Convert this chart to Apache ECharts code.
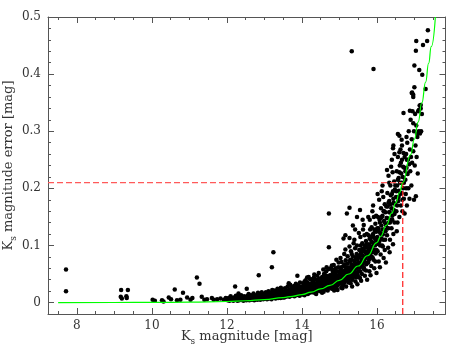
<!DOCTYPE html>
<html>
<head>
<meta charset="utf-8">
<script src="https://cdn.jsdelivr.net/npm/echarts@6/dist/echarts.min.js"></script>
<style>
  html, body { margin: 0; padding: 0; background: #fff; }
  #chart { width: 474px; height: 354px; }
</style>
</head>
<body>
<div id="chart"></div>
<script>
// axis ranges and ticks
var xMin = 7.23, xMax = 17.83;
var yMin = -0.02, yMax = 0.5;
var xMajor = [8, 10, 12, 14, 16];
var xMinor = [7.5, 8.5, 9, 9.5, 10.5, 11, 11.5, 12.5, 13, 13.5, 14.5, 15, 15.5, 16.5, 17, 17.5];
var yMajor = [0, 0.1, 0.2, 0.3, 0.4, 0.5];
var yMinor = [0.02, 0.04, 0.06, 0.08, 0.12, 0.14, 0.16, 0.18, 0.22, 0.24, 0.26, 0.28,
              0.32, 0.34, 0.36, 0.38, 0.42, 0.44, 0.46, 0.48];

// completeness cut (dashed lines)
var cutMag = 16.69;
var cutErr = 0.21;

// fitted error curve
var curveMag = [7.5, 9, 10, 11, 12, 12.5, 13, 13.5, 13.75, 14, 14.25, 14.5, 14.75, 15, 15.25, 15.5, 15.75, 16, 16.1, 16.25, 16.4, 16.5, 16.6, 16.69, 16.9, 17.0, 17.1, 17.2, 17.3, 17.38, 17.45, 17.56];
var curveErr = [0, 0.0001, 0.0003, 0.0007, 0.0019, 0.0032, 0.0053, 0.0087, 0.011, 0.014, 0.0183, 0.024, 0.030, 0.039, 0.050, 0.064, 0.082, 0.105, 0.116, 0.135, 0.157, 0.174, 0.192, 0.21, 0.259, 0.286, 0.316, 0.35, 0.386, 0.419, 0.448, 0.50];

// isolated stars
var sparseStars = [
  [7.71,0.058],[7.71,0.020],[9.18,0.022],[9.36,0.022],[9.17,0.010],[9.20,0.007],[9.32,0.011],[9.33,0.008],
  [10.02,0.005],[10.08,0.003],[10.27,0.004],[10.31,0.002],[10.45,0.009],[10.51,0.006],[10.61,0.023],[10.67,0.004],
  [10.76,0.005],[10.83,0.017],[10.94,0.009],[11.03,0.005],[11.08,0.008],[11.20,0.044],[11.27,0.033],[11.33,0.010],
  [11.40,0.005],[11.47,0.006],[11.60,0.008],[11.65,0.005],[11.74,0.006],[11.83,0.007],[11.92,0.005],[11.97,0.008],
  [12.22,0.028],[12.53,0.024],[12.85,0.048],[13.20,0.062],[13.24,0.088],[13.88,0.047],[14.18,0.045],
  [14.72,0.156],[14.72,0.097],[15.20,0.156],[15.27,0.166],[15.55,0.162],[15.47,0.150],[15.16,0.118],[15.27,0.113],
  [15.11,0.112],[15.36,0.135],[15.42,0.128],[15.62,0.145],
  [15.33,0.440],[15.91,0.409],[17.36,0.477],[17.34,0.458],[17.05,0.458],[17.23,0.451],[17.04,0.441],[17.00,0.415],
  [17.13,0.407],[17.21,0.399],[17.00,0.377],[16.94,0.368],[16.97,0.364],[17.30,0.374]
];

var band12to14 = [
  [12.02,0.004],[12.05,0.008],[12.07,0.003],[12.10,0.011],[12.12,0.005],[12.15,0.007],[12.17,0.003],[12.19,0.009],[12.22,0.005],[12.24,0.012],
  [12.26,0.006],[12.28,0.003],[12.30,0.010],[12.31,0.016],[12.33,0.004],[12.36,0.008],[12.38,0.013],[12.40,0.005],[12.42,0.009],[12.44,0.003],[12.46,0.011],[12.49,0.006],
  [12.51,0.008],[12.52,0.004],[12.55,0.012],[12.57,0.006],[12.58,0.015],[12.60,0.004],[12.62,0.009],[12.64,0.013],[12.66,0.005],[12.68,0.010],[12.70,0.007],[12.71,0.016],[12.73,0.004],[12.74,0.011],
  [12.76,0.006],[12.78,0.013],[12.79,0.009],[12.81,0.005],[12.83,0.017],[12.84,0.011],[12.86,0.007],[12.88,0.014],[12.89,0.005],[12.91,0.010],[12.93,0.018],[12.94,0.008],[12.96,0.012],[12.97,0.006],[12.99,0.015],[12.98,0.009],
  [13.01,0.007],[13.02,0.013],[13.04,0.018],[13.05,0.009],[13.07,0.006],[13.08,0.015],[13.10,0.011],[13.11,0.020],[13.13,0.007],[13.14,0.013],[13.16,0.009],[13.17,0.017],[13.19,0.006],[13.20,0.012],[13.21,0.022],[13.22,0.008],[13.24,0.015],[13.23,0.010],
  [13.26,0.009],[13.27,0.016],[13.28,0.021],[13.30,0.007],[13.31,0.012],[13.33,0.018],[13.34,0.010],[13.35,0.024],[13.37,0.008],[13.38,0.014],[13.40,0.020],[13.41,0.011],[13.42,0.016],[13.43,0.008],[13.45,0.013],[13.46,0.022],[13.47,0.010],[13.48,0.017],[13.49,0.009],[13.44,0.026],
  [13.51,0.012],[13.52,0.019],[13.53,0.009],[13.55,0.025],[13.56,0.014],[13.57,0.010],[13.58,0.021],[13.60,0.016],[13.61,0.011],[13.62,0.028],[13.63,0.018],[13.64,0.013],[13.66,0.023],[13.67,0.010],[13.68,0.016],[13.69,0.031],[13.70,0.020],[13.71,0.012],[13.72,0.026],[13.73,0.015],[13.74,0.019],[13.65,0.034],
  [13.76,0.013],[13.77,0.022],[13.78,0.017],[13.79,0.029],[13.80,0.011],[13.81,0.024],[13.82,0.015],[13.83,0.019],[13.84,0.033],[13.85,0.013],[13.86,0.027],[13.87,0.018],[13.88,0.022],[13.89,0.014],[13.90,0.030],[13.91,0.020],[13.92,0.016],[13.93,0.025],[13.94,0.012],[13.95,0.035],[13.96,0.021],[13.97,0.017],[13.98,0.028],[13.99,0.015]
];

var band14to15 = [
  [14.01,0.019],[14.02,0.014],[14.03,0.027],[14.04,0.034],[14.05,0.017],[14.06,0.022],[14.07,0.013],[14.08,0.030],[14.09,0.019],[14.10,0.039],[14.11,0.024],[14.12,0.016],[14.13,0.028],[14.14,0.021],[14.15,0.035],[14.16,0.015],[14.17,0.025],[14.18,0.019],[14.19,0.031],[14.20,0.023],[14.21,0.017],[14.22,0.041],[14.23,0.027],[14.24,0.020],[14.14,0.044],[14.07,0.037],
  [14.26,0.022],[14.27,0.030],[14.28,0.018],[14.29,0.037],[14.30,0.025],[14.31,0.020],[14.32,0.044],[14.33,0.028],[14.34,0.017],[14.35,0.033],[14.36,0.023],[14.37,0.040],[14.38,0.026],[14.39,0.019],[14.40,0.031],[14.41,0.047],[14.42,0.024],[14.43,0.036],[14.44,0.021],[14.45,0.029],[14.46,0.042],[14.47,0.026],[14.48,0.034],[14.49,0.020],[14.33,0.049],[14.28,0.041],[14.45,0.052],[14.38,0.015],
  [14.51,0.028],[14.52,0.036],[14.53,0.022],[14.54,0.045],[14.55,0.031],[14.56,0.025],[14.57,0.039],[14.58,0.019],[14.59,0.050],[14.60,0.033],[14.61,0.027],[14.62,0.042],[14.63,0.030],[14.64,0.023],[14.65,0.055],[14.66,0.036],[14.67,0.028],[14.68,0.046],[14.69,0.021],[14.70,0.038],[14.71,0.031],[14.72,0.059],[14.73,0.026],[14.74,0.043],[14.57,0.058],[14.63,0.048],[14.69,0.034],[14.54,0.017],[14.66,0.062],[14.60,0.040],
  [14.76,0.035],[14.77,0.028],[14.78,0.048],[14.79,0.040],[14.80,0.024],[14.81,0.057],[14.82,0.033],[14.83,0.044],[14.84,0.029],[14.85,0.066],[14.86,0.038],[14.87,0.050],[14.88,0.026],[14.89,0.042],[14.90,0.034],[14.91,0.060],[14.92,0.031],[14.93,0.047],[14.94,0.039],[14.95,0.022],[14.96,0.054],[14.97,0.036],[14.98,0.070],[14.99,0.044],[14.80,0.065],[14.86,0.021],[14.92,0.075],[14.88,0.058],[14.78,0.061],[14.95,0.030],[14.83,0.053],[14.97,0.062]
];

var band15to16 = [
  [15.01,0.041],[15.02,0.033],[15.03,0.058],[15.04,0.047],[15.05,0.026],[15.06,0.071],[15.07,0.038],[15.08,0.052],[15.09,0.044],[15.10,0.030],[15.11,0.064],[15.12,0.049],[15.13,0.085],[15.14,0.036],[15.15,0.056],[15.16,0.043],[15.17,0.074],[15.18,0.028],[15.19,0.060],[15.20,0.050],[15.21,0.039],[15.22,0.068],[15.23,0.054],[15.24,0.046],[15.03,0.078],[15.08,0.025],[15.12,0.034],[15.16,0.093],[15.19,0.040],[15.22,0.081],[15.05,0.055],[15.10,0.047],[15.24,0.035],[15.14,0.063],
  [15.26,0.055],[15.27,0.043],[15.28,0.072],[15.29,0.062],[15.30,0.034],[15.31,0.090],[15.32,0.050],[15.33,0.067],[15.34,0.058],[15.35,0.040],[15.36,0.081],[15.37,0.063],[15.38,0.104],[15.39,0.048],[15.40,0.073],[15.41,0.056],[15.42,0.095],[15.43,0.037],[15.44,0.068],[15.45,0.060],[15.46,0.085],[15.47,0.052],[15.48,0.076],[15.49,0.064],[15.27,0.098],[15.30,0.046],[15.34,0.028],[15.37,0.053],[15.40,0.110],[15.43,0.079],[15.45,0.044],[15.48,0.032],[15.33,0.085],[15.29,0.075],[15.41,0.066],[15.47,0.100],
  [15.51,0.070],[15.52,0.055],[15.53,0.092],[15.54,0.080],[15.55,0.043],[15.56,0.115],[15.57,0.065],[15.58,0.086],[15.59,0.075],[15.60,0.050],[15.61,0.104],[15.62,0.082],[15.63,0.128],[15.64,0.061],[15.65,0.094],[15.66,0.072],[15.67,0.118],[15.68,0.047],[15.69,0.088],[15.70,0.078],[15.71,0.108],[15.72,0.067],[15.73,0.097],[15.74,0.083],[15.52,0.122],[15.55,0.062],[15.58,0.038],[15.62,0.068],[15.65,0.136],[15.68,0.100],[15.71,0.056],[15.74,0.040],[15.57,0.100],[15.60,0.090],[15.66,0.058],[15.73,0.120],
  [15.76,0.090],[15.77,0.070],[15.78,0.118],[15.79,0.102],[15.80,0.055],[15.81,0.145],[15.82,0.084],[15.83,0.110],[15.84,0.096],[15.85,0.064],[15.86,0.132],[15.87,0.106],[15.88,0.160],[15.89,0.078],[15.90,0.120],[15.91,0.093],[15.92,0.150],[15.93,0.060],[15.94,0.113],[15.95,0.100],[15.96,0.138],[15.97,0.086],[15.98,0.124],[15.99,0.107],[15.77,0.150],[15.80,0.080],[15.83,0.048],[15.87,0.088],[15.90,0.170],[15.93,0.128],[15.96,0.072],[15.99,0.052],[15.82,0.128],[15.85,0.115],[15.91,0.075],[15.98,0.152]
];

var band16to17 = [
  [16.01,0.115],[16.02,0.090],[16.03,0.150],[16.04,0.130],[16.05,0.072],[16.06,0.180],[16.07,0.108],[16.08,0.140],[16.09,0.122],[16.10,0.084],[16.11,0.165],[16.12,0.135],[16.13,0.195],[16.14,0.100],[16.15,0.152],[16.16,0.119],[16.17,0.185],[16.18,0.078],[16.19,0.143],[16.20,0.128],[16.21,0.172],[16.22,0.110],[16.23,0.158],[16.24,0.136],[16.02,0.190],[16.05,0.102],[16.08,0.062],[16.12,0.112],[16.15,0.205],[16.18,0.160],[16.21,0.092],[16.24,0.070],[16.10,0.148],[16.16,0.098],
  [16.26,0.148],[16.27,0.118],[16.28,0.192],[16.29,0.168],[16.30,0.096],[16.31,0.222],[16.32,0.140],[16.33,0.178],[16.34,0.158],[16.35,0.110],[16.36,0.205],[16.37,0.172],[16.38,0.238],[16.39,0.130],[16.40,0.190],[16.41,0.152],[16.42,0.228],[16.43,0.102],[16.44,0.182],[16.45,0.162],[16.46,0.212],[16.47,0.140],[16.48,0.198],[16.49,0.172],[16.27,0.232],[16.30,0.130],[16.34,0.088],[16.37,0.145],[16.40,0.250],[16.44,0.120],[16.47,0.260],[16.33,0.210],[16.44,0.275],[16.43,0.270],
  [16.51,0.185],[16.52,0.160],[16.53,0.230],[16.54,0.205],[16.55,0.140],[16.56,0.255],[16.57,0.178],[16.58,0.218],[16.59,0.196],[16.60,0.150],[16.61,0.240],[16.62,0.210],[16.63,0.268],[16.64,0.170],[16.65,0.226],[16.66,0.192],[16.67,0.250],[16.68,0.160],[16.69,0.220],[16.70,0.200],[16.71,0.262],[16.72,0.182],[16.73,0.236],[16.74,0.156],[16.56,0.295],[16.60,0.292],[16.53,0.125],[16.66,0.285],
  [16.76,0.215],[16.77,0.190],[16.78,0.260],[16.79,0.236],[16.80,0.170],[16.81,0.280],[16.82,0.225],[16.83,0.250],[16.84,0.200],[16.85,0.300],[16.86,0.242],[16.87,0.182],[16.88,0.268],[16.89,0.230],[16.90,0.320],[16.91,0.255],[16.92,0.205],[16.93,0.286],[16.94,0.245],[16.95,0.335],[16.97,0.265],[16.99,0.300],
  [16.71,0.332],[16.88,0.336],[16.97,0.314],[16.79,0.290],[16.67,0.275],[16.60,0.263]
];

// densest part of the band, hugging the fitted curve
var bandCore = [
  [13.52,0.011],[13.55,0.016],[13.58,0.012],[13.61,0.018],[13.64,0.014],[13.67,0.019],[13.70,0.013],[13.73,0.022],[13.76,0.016],[13.79,0.020],[13.82,0.014],[13.85,0.023],[13.88,0.017],[13.91,0.025],[13.94,0.018],[13.97,0.023],
  [14.01,0.024],[14.03,0.018],[14.06,0.029],[14.08,0.021],[14.11,0.018],[14.13,0.032],[14.16,0.022],[14.18,0.027],[14.21,0.020],[14.23,0.033],[14.26,0.026],[14.29,0.022],[14.31,0.035],[14.34,0.024],[14.36,0.030],[14.39,0.027],[14.41,0.022],[14.44,0.038],[14.46,0.032],[14.48,0.025],
  [14.51,0.033],[14.53,0.026],[14.55,0.040],[14.58,0.030],[14.60,0.037],[14.62,0.025],[14.64,0.041],[14.67,0.033],[14.69,0.044],[14.71,0.028],[14.73,0.036],[14.75,0.048],[14.77,0.031],[14.79,0.043],[14.81,0.036],[14.83,0.027],[14.85,0.046],[14.87,0.033],[14.89,0.052],[14.91,0.038],[14.93,0.029],[14.95,0.046],[14.97,0.040],[14.99,0.034],
  [15.01,0.050],[15.03,0.040],[15.05,0.062],[15.07,0.045],[15.09,0.036],[15.11,0.055],[15.13,0.047],[15.15,0.067],[15.17,0.040],[15.19,0.053],[15.21,0.046],[15.23,0.061],[15.25,0.052],[15.27,0.036],[15.29,0.058],[15.31,0.048],[15.33,0.075],[15.35,0.055],[15.37,0.045],[15.39,0.064],[15.41,0.073],[15.43,0.052],[15.45,0.078],[15.47,0.061],[15.49,0.048],
  [15.51,0.082],[15.53,0.066],[15.55,0.055],[15.57,0.086],[15.59,0.071],[15.61,0.094],[15.63,0.075],[15.65,0.062],[15.67,0.090],[15.69,0.081],[15.71,0.070],[15.73,0.102],[15.75,0.085],[15.77,0.095],[15.79,0.075],[15.81,0.112],[15.83,0.090],[15.85,0.098],[15.87,0.080],[15.89,0.118],[15.91,0.104],[15.93,0.088],[15.95,0.125],[15.97,0.110],[15.99,0.092],
  [16.01,0.130],[16.03,0.105],[16.05,0.125],[16.07,0.145],[16.09,0.100],[16.11,0.120],[16.13,0.150],[16.15,0.128],[16.17,0.110],[16.19,0.160],[16.21,0.140],[16.23,0.125],[16.25,0.168],[16.27,0.148],[16.29,0.130],[16.31,0.175],[16.33,0.158],[16.35,0.140],[16.37,0.188],[16.39,0.165],[16.41,0.145],[16.43,0.195],[16.45,0.175],[16.47,0.155],[16.49,0.205],
  [16.52,0.195],[16.54,0.170],[16.56,0.215],[16.58,0.185],[16.60,0.228],[16.62,0.190],[16.64,0.245],[16.66,0.210],[16.68,0.180],[16.70,0.238],[16.72,0.210],[16.74,0.255],[16.76,0.230],[16.78,0.200],[16.80,0.250]
];

var faintTail = [
  [17.01,0.240],[17.03,0.275],[17.04,0.186],[17.05,0.310],[17.06,0.255],[17.08,0.290],[17.09,0.226],[17.10,0.335],
  [17.12,0.300],[17.14,0.345],[17.15,0.296],[17.17,0.340],[17.18,0.300],[17.20,0.330],[17.02,0.330],[17.07,0.295],
  [16.99,0.180],[17.12,0.337],[17.17,0.346],[16.93,0.367],[16.97,0.360]
];

var axisColor = '#555';
var textColor = '#333';
var fontFamily = 'DejaVu Serif';

var rich = {
  k: { fontSize: 13, fontFamily: fontFamily, color: textColor, lineHeight: 18, verticalAlign: 'middle' },
  s: { fontSize: 9, fontFamily: fontFamily, color: textColor, lineHeight: 18, verticalAlign: 'bottom' }
};

function tickAxis(pos, values, len, showLine) {
  return {
    type: 'value', position: pos,
    min: (pos === 'left' || pos === 'right') ? yMin : xMin,
    max: (pos === 'left' || pos === 'right') ? yMax : xMax,
    axisLine: { show: showLine, onZero: false, lineStyle: { color: axisColor, width: 1 } },
    axisTick: { show: true, inside: true, length: len, customValues: values, lineStyle: { color: axisColor, width: 1 } },
    axisLabel: { show: false },
    splitLine: { show: false }
  };
}

var curveData = curveMag.map(function (m, i) { return [m, curveErr[i]]; });
var starData = sparseStars.concat(band12to14, band14to15, band15to16, band16to17, bandCore, faintTail);

var xMain = tickAxis('bottom', xMajor, 6, true);
xMain.axisLabel = { show: true, customValues: xMajor, margin: 6, fontSize: 12, fontFamily: fontFamily, color: textColor };
xMain.name = '{k|K}{s|s}{k| magnitude [mag]}';
xMain.nameLocation = 'middle';
xMain.nameGap = 14;
xMain.nameMoveOverlap = false;
xMain.nameTextStyle = { rich: rich };

var yMain = tickAxis('left', yMajor, 6, true);
yMain.axisLabel = { show: true, customValues: yMajor, margin: 7, fontSize: 12, fontFamily: fontFamily, color: textColor };
yMain.name = '{k|K}{s|s}{k| magnitude error [mag]}';
yMain.nameLocation = 'middle';
yMain.nameGap = 30;
yMain.nameMoveOverlap = false;
yMain.nameTextStyle = { rich: rich };

var option = {
  animation: false,
  backgroundColor: '#fff',
  grid: { left: 48, top: 17, width: 397.5, height: 297, containLabel: false, outerBoundsMode: 'none' },
  xAxis: [xMain, tickAxis('bottom', xMinor, 3, false), tickAxis('top', xMajor, 6, true), tickAxis('top', xMinor, 3, false)],
  yAxis: [yMain, tickAxis('left', yMinor, 3, false), tickAxis('right', yMajor, 6, true), tickAxis('right', yMinor, 3, false)],
  series: [
    {
      type: 'scatter', data: starData, symbol: 'circle', symbolSize: 4.5,
      itemStyle: { color: '#000', opacity: 1 }, silent: true
    },
    {
      type: 'line', data: [[xMin, cutErr], [cutMag, cutErr]], symbol: 'none', silent: true,
      lineStyle: { color: '#ff5a5a', width: 1.2, type: [6, 3] }
    },
    {
      type: 'line', data: [[cutMag, yMin], [cutMag, cutErr]], symbol: 'none', silent: true,
      lineStyle: { color: '#ff1a1a', width: 1.2, type: [6, 3] }
    },
    {
      type: 'line', data: curveData, symbol: 'none', smooth: true, smoothMonotone: 'x', silent: true,
      clip: true, lineStyle: { color: '#00ff00', width: 1.2 }
    }
  ]
};

var chart = echarts.init(document.getElementById('chart'));
chart.setOption(option);
</script>
</body>
</html>
